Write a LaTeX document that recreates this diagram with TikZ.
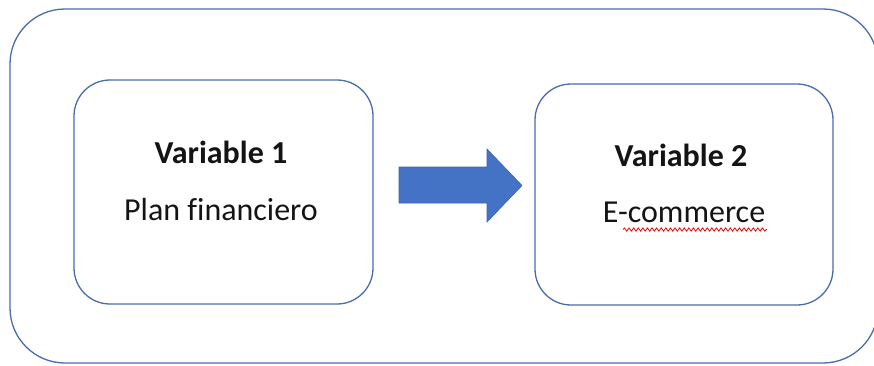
\documentclass[tikz,border=0pt]{standalone}
\usepackage{fontspec}
\setmainfont[Ligatures=NoCommon]{Carlito}
\usetikzlibrary{decorations.pathmorphing}
\definecolor{ofblue}{HTML}{4472C4}
\definecolor{ofline}{HTML}{4A6CAD}
\definecolor{arrline}{HTML}{3D64AE}
\begin{document}
\begin{tikzpicture}[x=1pt,y=-1pt,
  box/.style={draw=ofline, line width=1.3pt, fill=none, inner sep=0pt, outer sep=0pt},
  lbl/.style={anchor=base, font=\fontsize{32}{38}\selectfont, text=black!92},
  title/.style={lbl, font=\fontsize{32}{38}\selectfont\bfseries}]
\useasboundingbox (0,0) rectangle (874,365);
\clip (0,0) rectangle (874,365);
\node[box, rounded corners=55pt, minimum width=868pt, minimum height=354pt, anchor=north west] (outer) at (10,9) {};
\node[box, rounded corners=36pt, minimum width=299pt, minimum height=224pt] (left) at (223.5,192) {};
\node[box, rounded corners=36pt, minimum width=298pt, minimum height=221pt] (right) at (684,194.5) {};
\node[title] (v1) at (221,163) {Variable 1};
\node[lbl] (p1) at (221,220) {Plan financiero};
\node[title] (v2) at (681,166) {Variable 2};
\node[lbl] (p2) at (684,222) {E-commerce};
\draw[red, line width=0.8pt, decorate, decoration={snake, amplitude=1.6pt, segment length=4.6pt}] (623,229.5) -- (767,229.5);
\filldraw[fill=ofblue, draw=arrline, line width=0.6pt]
  (399,167) -- (487,167) -- (487,149) -- (522,185.5) -- (487,222) -- (487,203) -- (399,203) -- cycle;
\end{tikzpicture}
\end{document}
